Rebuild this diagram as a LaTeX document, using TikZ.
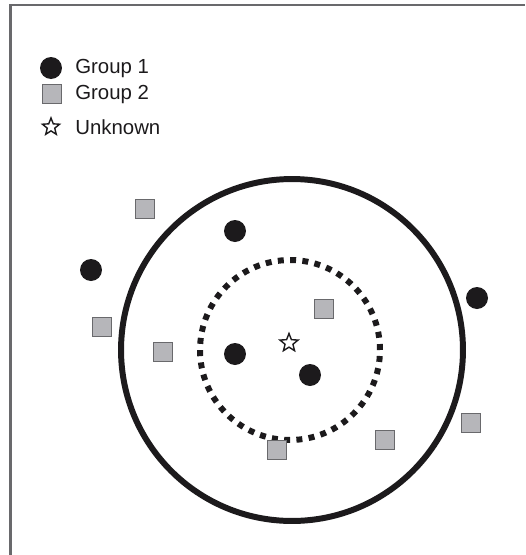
\documentclass[tikz,border=0pt]{standalone}
\usepackage{fontspec}
\setmainfont{Liberation Sans}
\usetikzlibrary{shapes.geometric}

\definecolor{boxgray}{RGB}{182,182,186}
\definecolor{edgegray}{RGB}{105,105,108}
\definecolor{inkblack}{RGB}{28,26,28}

\tikzset{
  dot/.style={circle, fill=inkblack, inner sep=0pt, minimum size=0.44cm},
  sq/.style={rectangle, fill=boxgray, draw=edgegray, line width=0.6pt, inner sep=0pt, minimum size=0.37cm},
  unknown/.style={star, star points=5, star point ratio=2.3, draw=inkblack, line width=0.8pt, fill=white, inner sep=0pt, minimum size=0.38cm},
  legtext/.style={anchor=west, inner sep=0pt, font=\fontsize{11.6pt}{13pt}\selectfont, text=inkblack}
}

\begin{document}
\begin{tikzpicture}[x=0.02cm, y=-0.02cm]

	\useasboundingbox (0,0) rectangle (525,555);

	% Frame (cut off at right and bottom)
	\draw[edgegray, line width=1.2pt] (10.5,555) -- (10.5,5) -- (525,5);

	% Legend
	\node[dot] (leg1) at (51,68) {};
	\node[legtext] (legtxt1) at (75,68) {Group 1};
	\node[sq] (leg2) at (52,94) {};
	\node[legtext] (legtxt2) at (75,94) {Group 2};
	\node[unknown, minimum size=0.36cm] (leg3) at (51,127) {};
	\node[legtext] (legtxt3) at (75,127) {Unknown};

	% Neighbourhoods around the unknown point
	\node[circle, draw=inkblack, line width=3.4pt, minimum size=6.84cm, inner sep=0pt] (outer) at (292,350) {};
	\node[circle, draw=inkblack, line width=3.4pt, dash pattern=on 3.4pt off 3.6pt, minimum size=3.6cm, inner sep=0pt] (inner) at (290,350) {};

	% Group 1 points
	\foreach \px/\py [count=\i] in {235/231, 91/270, 477/298, 235/354, 310/375} {
		\node[dot] (g1p\i) at (\px,\py) {};
	}

	% Group 2 points
	\foreach \px/\py [count=\i] in {145/209, 102/327, 163/352, 324/309, 277/450, 385/440, 471/423} {
		\node[sq] (g2p\i) at (\px,\py) {};
	}

	% Unknown point
	\node[unknown] (query) at (289,343) {};

\end{tikzpicture}
\end{document}
